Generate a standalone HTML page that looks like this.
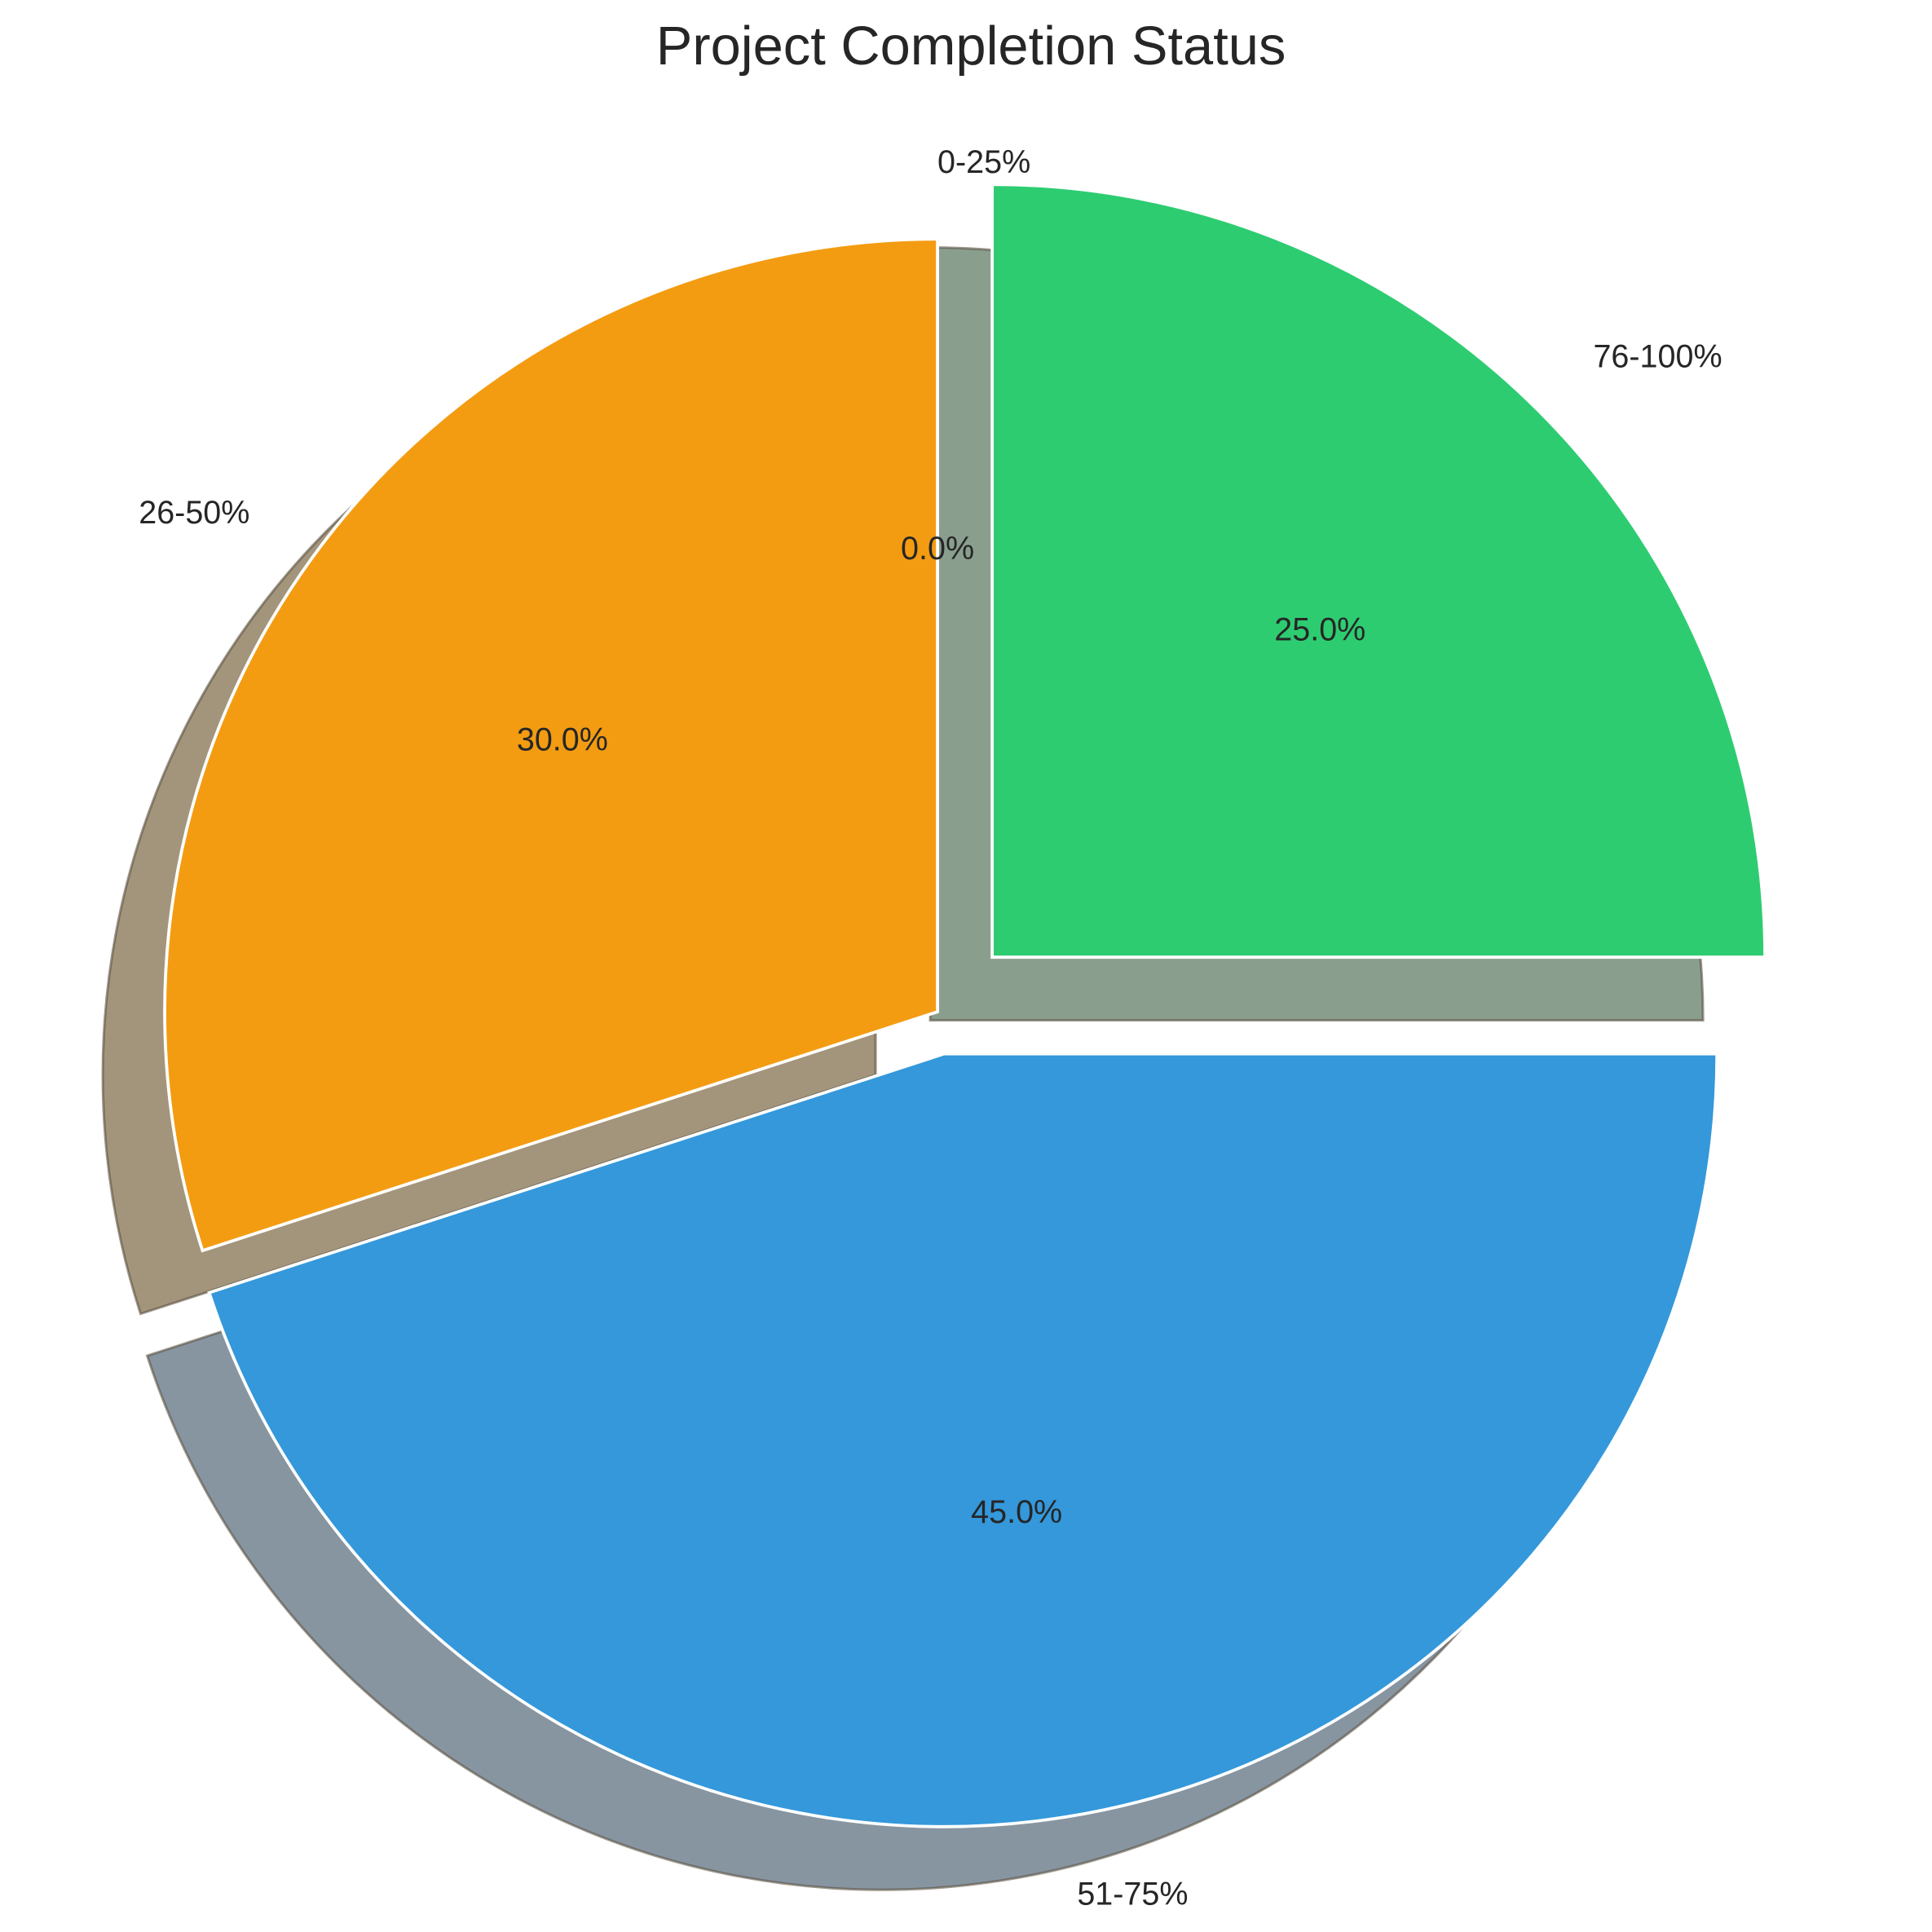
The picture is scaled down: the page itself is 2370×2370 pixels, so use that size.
<!DOCTYPE html>
<html><head><meta charset="utf-8"><style>
html,body{margin:0;padding:0;background:#fff;}
svg{display:block;font-family:"Liberation Sans",Arial,sans-serif;}
</style></head><body>
<svg id="chart" width="2370" height="2370" viewBox="0 0 1560 1560" xmlns="http://www.w3.org/2000/svg">
<rect width="1560" height="1560" fill="#fff"/>
<text x="784" y="52" text-anchor="middle" font-size="44" fill="#262626">Project Completion Status</text>
<g id="shadows"></g><g id="wedges"></g><g id="labels"></g>
</svg>
<script>
const categories = ["0-25%", "26-50%", "51-75%", "76-100%"];
const values = [0, 30, 45, 25];
const explode = [0, 0, 0.055, 0.1];
const colors = ["#e74c3c", "#f39c12", "#3498db", "#2ecc71"];
const shadowColors = ["#8a7070", "#a3957c", "#8795a1", "#8a9e8e"];

const NS = "http://www.w3.org/2000/svg";
const cx = 757, cy = 817, R = 624, shX = -50, shY = 51;
const total = values.reduce((a, b) => a + b, 0);
const sh = document.getElementById("shadows"), wg = document.getElementById("wedges"), lb = document.getElementById("labels");
function pt(x0, y0, r, deg) { const a = deg * Math.PI / 180; return [x0 + r * Math.cos(a), y0 - r * Math.sin(a)]; }
function wedgePath(x0, y0, a1, a2) {
  const p1 = pt(x0, y0, R, a1), p2 = pt(x0, y0, R, a2);
  const large = (a2 - a1) > 180 ? 1 : 0;
  return `M${x0},${y0} L${p1[0]},${p1[1]} A${R},${R} 0 ${large} 0 ${p2[0]},${p2[1]} Z`;
}
let start = 90;
values.forEach((v, i) => {
  const sweep = v / total * 360, end = start + sweep, mid = (start + end) / 2;
  const [ox, oy] = pt(0, 0, explode[i] * R, mid);
  const x0 = cx + ox, y0 = cy + oy;
  if (v > 0) {
    const s = document.createElementNS(NS, "path");
    s.setAttribute("d", wedgePath(x0 + shX, y0 + shY, start, end));
    s.setAttribute("fill", shadowColors[i]);
    s.setAttribute("stroke", "#5a5040");
    s.setAttribute("stroke-opacity", "0.6");
    s.setAttribute("stroke-width", "2");
    
    
    sh.appendChild(s);
    const w = document.createElementNS(NS, "path");
    w.setAttribute("d", wedgePath(x0, y0, start, end));
    w.setAttribute("fill", colors[i]);
    w.setAttribute("stroke", "#fff");
    w.setAttribute("stroke-width", "2.5");
    
    
    wg.appendChild(w);
  }
  const lp = pt(x0, y0, 1.1 * R, mid);
  const c = Math.cos(mid * Math.PI / 180);
  const t = document.createElementNS(NS, "text");
  t.setAttribute("x", lp[0]); t.setAttribute("y", lp[1] + 9);
  t.setAttribute("text-anchor", c >= -1e-9 ? "start" : "end");
  t.setAttribute("font-size", "26"); t.setAttribute("fill", "#262626");
  t.textContent = categories[i];
  
  
  lb.appendChild(t);
  const pp = pt(x0, y0, 0.6 * R, mid);
  const p = document.createElementNS(NS, "text");
  p.setAttribute("x", pp[0]); p.setAttribute("y", pp[1] + 9);
  p.setAttribute("text-anchor", "middle");
  p.setAttribute("font-size", "26"); p.setAttribute("fill", "#262626");
  p.textContent = (v / total * 100).toFixed(1) + "%";
  
  
  lb.appendChild(p);
  start = end;
});
</script>
</body></html>
